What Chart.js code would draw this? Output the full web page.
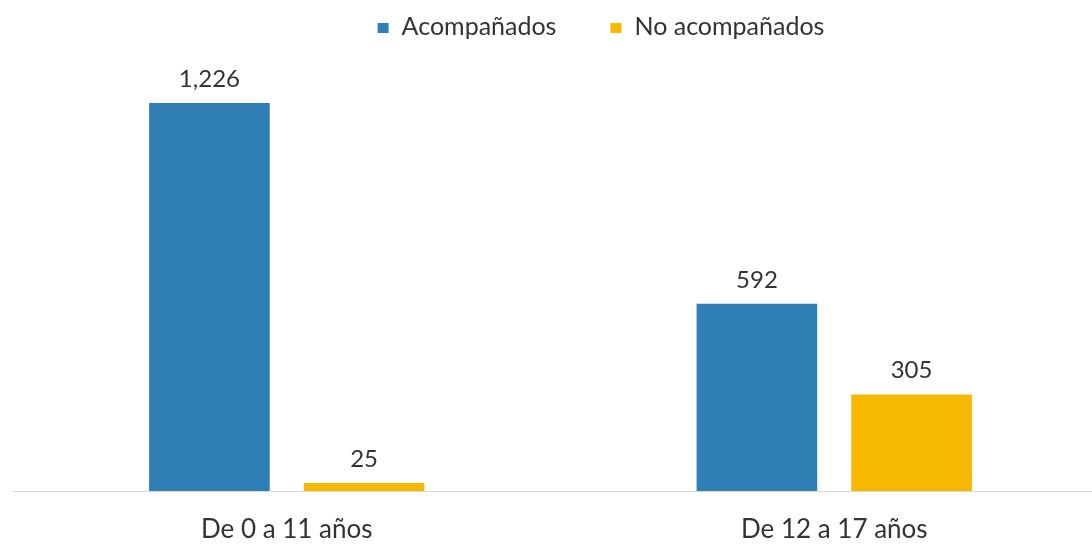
<!DOCTYPE html>
<html lang="es">
<head>
<meta charset="utf-8">
<title>Acompañados / No acompañados</title>
<script src="https://cdn.jsdelivr.net/npm/chart.js@4.4.1/dist/chart.umd.min.js"></script>
<style>
  html, body { margin: 0; padding: 0; background: #fff; overflow: hidden; }
  .chart-wrap { position: relative; width: 1108px; height: 544px; }
</style>
</head>
<body>
<div class="chart-wrap">
  <canvas id="ageChart"></canvas>
</div>
<script>
// Data
const categories = ['De 0 a 11 años', 'De 12 a 17 años'];
const seriesNames = ['Acompañados', 'No acompañados'];
const acompanados = [1226, 592];
const noAcompanados = [25, 305];

const COLORS = ['#2F7EB5', '#F7B800'];
const TEXT_COLOR = '#333333';

document.addEventListener('DOMContentLoaded', () => {
  initAgeChart();
});

// Numbers written above each bar
const valueLabels = {
  id: 'valueLabels',
  afterDatasetsDraw(chart) {
    const ctx = chart.ctx;
    ctx.save();
    ctx.font = '24px Lato';
    ctx.fillStyle = TEXT_COLOR;
    ctx.textAlign = 'center';
    ctx.textBaseline = 'alphabetic';
    chart.data.datasets.forEach((ds, i) => {
      chart.getDatasetMeta(i).data.forEach((bar, j) => {
        ctx.fillText(ds.data[j].toLocaleString('en-US'), bar.x, bar.y - 16);
      });
    });
    ctx.restore();
  }
};

// Legend drawn by hand so the spacing can follow the picture
const topLegend = {
  id: 'topLegend',
  afterDraw(chart) {
    const ctx = chart.ctx;
    const box = 11, gapText = 13, gapItem = 54;
    ctx.save();
    ctx.font = '25px Lato';
    ctx.textBaseline = 'middle';
    ctx.textAlign = 'left';
    const items = chart.data.datasets.map(ds => ({
      text: ds.label, color: ds.backgroundColor, w: ctx.measureText(ds.label).width
    }));
    let total = 0;
    items.forEach((it, i) => { total += box + gapText + it.w + (i ? gapItem : 0); });
    let x = 601 - total / 2;
    const y = 27;
    items.forEach(it => {
      ctx.fillStyle = it.color;
      ctx.fillRect(x, y - 4, box, 10);
      x += box + gapText;
      ctx.fillStyle = TEXT_COLOR;
      ctx.fillText(it.text, x, y);
      x += it.w + gapItem;
    });
    ctx.restore();
  }
};

function initAgeChart() {
  const canvas = document.getElementById('ageChart');
  Chart.defaults.font.family = 'Lato';
  new Chart(canvas.getContext('2d'), {
    type: 'bar',
    data: {
      labels: categories,
      datasets: [
        { label: seriesNames[0], data: acompanados, backgroundColor: COLORS[0] },
        { label: seriesNames[1], data: noAcompanados, backgroundColor: COLORS[1] }
      ]
    },
    options: {
      responsive: true,
      maintainAspectRatio: false,
      animation: false,
      categoryPercentage: 0.565,
      barPercentage: 0.78,
      layout: { padding: { top: 48, left: 13, right: 0, bottom: 0 } },
      plugins: {
        legend: { display: false },
        tooltip: { enabled: false }
      },
      scales: {
        x: {
          grid: { display: false },
          border: { display: true, color: '#D9D9D9', width: 1 },
          ticks: { color: TEXT_COLOR, font: { size: 26 }, padding: 15 },
          // keep the axis band as tall as in the picture
          afterFit: scale => { scale.height = 53; }
        },
        y: {
          display: false,
          min: 0,
          max: 1400
        }
      }
    },
    plugins: [valueLabels, topLegend]
  });
}
</script>
</body>
</html>
